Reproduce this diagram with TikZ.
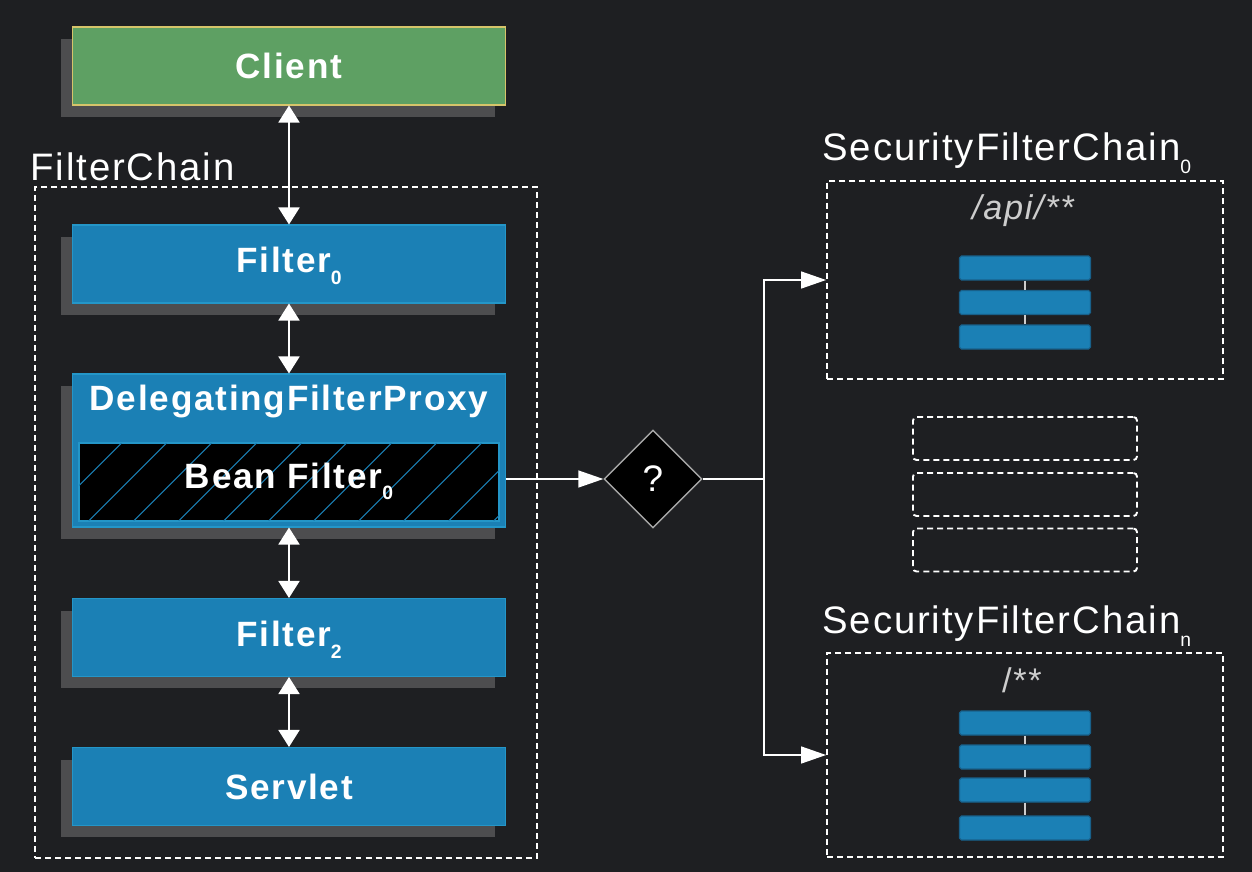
\documentclass[tikz,border=0pt]{standalone}
\usepackage{fontspec}
\setmainfont{Liberation Sans}[LetterSpace=5]
\usetikzlibrary{shapes.geometric,shadows,arrows.meta}
\definecolor{bgdark}{RGB}{30,31,34}
\definecolor{boxblue}{RGB}{27,128,181}
\definecolor{boxedge}{RGB}{36,150,200}
\definecolor{bardark}{RGB}{24,96,138}
\definecolor{shgray}{RGB}{77,77,79}
\definecolor{clientgreen}{RGB}{94,160,99}
\definecolor{clientedge}{RGB}{214,196,106}
\definecolor{pathgray}{RGB}{205,205,205}
\newcommand\sub[1]{\smash{\raisebox{-0.34em}{\fontsize{11}{11}\selectfont #1}}}

\begin{document}
\begin{tikzpicture}[x=0.02cm,y=-0.02cm,
  box/.style={draw=boxedge,fill=boxblue,line width=0.6pt,minimum width=8.68cm,minimum height=1.56cm,inner sep=0pt,
    text=white,font=\fontsize{20}{20}\selectfont\bfseries,
    drop shadow={shadow xshift=-0.22cm,shadow yshift=-0.24cm,fill=shgray,opacity=1}},
  frame/.style={draw=white,line width=1.1pt,dash pattern=on 3.4pt off 2.3pt,inner sep=0pt},
  heading/.style={text=white,inner sep=0pt,font=\fontsize{21.8}{21.8}\selectfont},
  bar/.style={draw=bardark,fill=boxblue,line width=0.6pt,rounded corners=1pt,minimum width=2.62cm,minimum height=0.48cm,inner sep=0pt},
  slot/.style={frame,rounded corners=2pt,minimum width=4.48cm,minimum height=0.86cm},
  both/.style={white,line width=1.1pt,{Triangle[width=0.42cm,length=0.34cm]}-{Triangle[width=0.42cm,length=0.34cm]}},
  flow/.style={white,line width=0.8pt,-{Triangle[width=0.34cm,length=0.5cm]}}]
\fill[bgdark] (0,0) rectangle (1252,872);
\useasboundingbox (0,0) rectangle (1252,872);

\node[frame,minimum width=10.04cm,minimum height=13.42cm] (chain) at (286,522.5) {};
\node[heading,anchor=base west] (chaintext) at (30,180) {FilterChain};

\node[box,fill=clientgreen,draw=clientedge] (client) at (289,66) {Client};
\node[box,text depth=0.16cm] (f0) at (289,264) {Filter\sub0};
\node[box,minimum height=3.06cm] (dfp) at (289,450.5) {};
\node[heading,anchor=base,font=\fontsize{20}{20}\selectfont\bfseries] (dfptext) at (289,410) {DelegatingFilterProxy};
\node[draw=boxedge,fill=black,line width=0.6pt,minimum width=8.4cm,minimum height=1.56cm,inner sep=0pt] (bean) at (289,482) {};
\begin{scope}
\clip (bean.south west) rectangle (bean.north east);
\foreach \k in {0,...,10}
  \draw[boxblue,line width=0.6pt] ({43.7+45*\k},521) -- ({121.7+45*\k},443);
\end{scope}
\draw[boxedge,line width=0.6pt] (bean.south west) rectangle (bean.north east);
\node[heading,anchor=base,font=\fontsize{20}{20}\selectfont\bfseries] (beantext) at (289,488) {Bean Filter\sub0};
\node[box,text depth=0.16cm] (f2) at (289,637.5) {Filter\sub2};
\node[box] (servlet) at (289,786.5) {Servlet};

\draw[both] (client) -- (f0);
\draw[both] (f0) -- (dfp);
\draw[both] (dfp) -- (f2);
\draw[both] (f2) -- (servlet);

\node[diamond,draw=gray!70,fill=black,line width=0.8pt,minimum width=1.96cm,minimum height=1.96cm,inner sep=0pt,
  text=white,font=\fontsize{21}{21}\selectfont] (choice) at (653,479) {?};
\coordinate (fork) at (764,479);
\draw[flow] (dfp.east |- choice) -- (choice);
\draw[white,line width=0.8pt] (choice) -- (fork);

\node[frame,minimum width=7.92cm,minimum height=3.96cm] (sfc0) at (1025,280) {};
\node[heading,anchor=base west] (sfc0text) at (822,160) {SecurityFilterChain\sub0};
\node[heading,anchor=base,text=pathgray,font=\fontsize{19.5}{19.5}\selectfont\itshape] (api) at (1023,219) {/api/**};
\foreach \y/\n in {268/1,302.5/2,337/3}
  \node[bar] (a\n) at (1025,\y) {};
\draw[pathgray,line width=0.6pt] (a1) -- (a2);
\draw[pathgray,line width=0.6pt] (a2) -- (a3);

\node[slot] (gap1) at (1025,438.5) {};
\node[slot] (gap2) at (1025,494.5) {};
\node[slot] (gap3) at (1025,550) {};

\node[frame,minimum width=7.92cm,minimum height=4.08cm] (sfcn) at (1025,755) {};
\node[heading,anchor=base west] (sfcntext) at (822,633) {SecurityFilterChain\sub{n}};
\node[heading,anchor=base,text=pathgray,font=\fontsize{19.5}{19.5}\selectfont] (any) at (1022,692) {/**};
\foreach \y/\n in {723/1,757/2,790/3,828/4}
  \node[bar] (b\n) at (1025,\y) {};
\draw[pathgray,line width=0.6pt] (b1) -- (b2);
\draw[pathgray,line width=0.6pt] (b2) -- (b3);
\draw[pathgray,line width=0.6pt] (b3) -- (b4);

\draw[flow] (fork) |- (sfc0.west);
\draw[flow] (fork) |- (sfcn.west);
\end{tikzpicture}
\end{document}
